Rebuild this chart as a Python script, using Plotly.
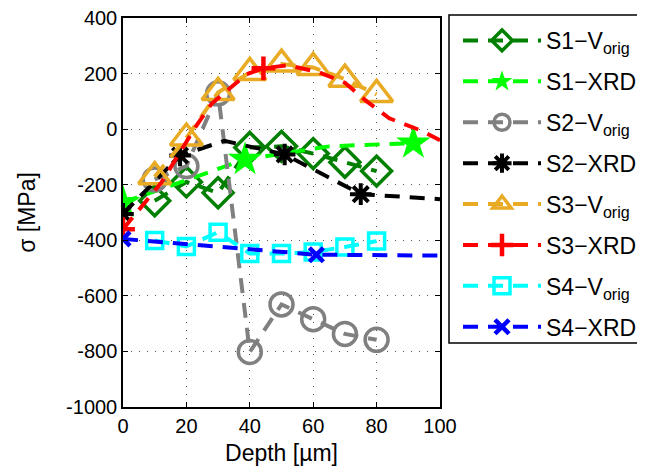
import plotly.graph_objects as go

# ---------------- data ----------------
depth_v = [10, 20, 30, 40, 50, 60, 70, 80]

s1_v = [-258, -190, -229, -66, -62, -88, -119, -151]
s2_v = [-181, -133, 129, -802, -631, -684, -737, -758]
s3_v = [-171, -32, 132, 204, 234, 222, 180, 125]
s4_v = [-401, -422, -371, -448, -448, -442, -424, -403]

# XRD curves (line vertices) and the points carrying markers
s1_xrd_x = [0, 38.5, 65, 91.6]
s1_xrd_y = [-264, -109, -62, -50]
s1_xrd_mx = [0, 38.5, 91.6]
s1_xrd_my = [-264, -109, -50]

s2_xrd_x = [0, 18, 32, 51, 75, 100]
s2_xrd_y = [-305, -95, -42, -91, -234, -252]
s2_xrd_mx = [0, 18, 51, 75]
s2_xrd_my = [-305, -95, -91, -234]

s3_xrd_x = [0, 12, 23, 28, 39, 44.3, 52, 61.5, 70, 77, 84, 94, 100]
s3_xrd_y = [-360, -194, 10, 92, 198, 219, 230, 206, 167, 99, 39, -5, -40]
s3_xrd_mx = [0, 44.3]
s3_xrd_my = [-360, 219]

s4_xrd_x = [0, 61, 100]
s4_xrd_y = [-395, -452, -455]
s4_xrd_mx = [0, 61]
s4_xrd_my = [-395, -452]

x_ticks = [0, 20, 40, 60, 80, 100]
y_ticks = [400, 200, 0, -200, -400, -600, -800, -1000]
y_ticklabels = ["400", "200", "0", "-200", "-400", "-600", "-800", "-1000"]

names = ["S1\u2212V<sub>orig</sub>", "S1\u2212XRD", "S2\u2212V<sub>orig</sub>", "S2\u2212XRD",
         "S3\u2212V<sub>orig</sub>", "S3\u2212XRD", "S4\u2212V<sub>orig</sub>", "S4\u2212XRD"]

# ---------------- styles ----------------
DASH = "15px,10px"
LW = 4

styles = [
    dict(color="#007F00", symbol="diamond-open", size=23, lw=3.5),
    dict(color="#00FF00", symbol="star", size=26, lw=0),
    dict(color="#808080", symbol="circle-open", size=23, lw=3.5),
    dict(color="#000000", symbol="asterisk-open", size=18, lw=4),
    dict(color="#E9AB23", symbol="triangle-up-open", size=28, lw=3.5),
    dict(color="#FF0000", symbol="cross-thin-open", size=17, lw=4.5),
    dict(color="#00FFFF", symbol="square-open", size=16, lw=3.5),
    dict(color="#0000FF", symbol="x-thin-open", size=14, lw=4.5),
]

fig = go.Figure()


def marker(st):
    m = dict(symbol=st["symbol"], size=st["size"], color=st["color"])
    if st["lw"]:
        m["line"] = dict(color=st["color"], width=st["lw"])
    else:
        m["line"] = dict(width=0)
    return m


series = [
    ("v", depth_v, s1_v),
    ("x", (s1_xrd_x, s1_xrd_y, s1_xrd_mx, s1_xrd_my)),
    ("v", depth_v, s2_v),
    ("x", (s2_xrd_x, s2_xrd_y, s2_xrd_mx, s2_xrd_my)),
    ("v", depth_v, s3_v),
    ("x", (s3_xrd_x, s3_xrd_y, s3_xrd_mx, s3_xrd_my)),
    ("v", depth_v, s4_v),
    ("x", (s4_xrd_x, s4_xrd_y, s4_xrd_mx, s4_xrd_my)),
]

for i, (s, st, name) in enumerate(zip(series, styles, names)):
    grp = f"g{i}"
    line = dict(color=st["color"], width=LW, dash=DASH)
    if s[0] == "v":
        fig.add_trace(go.Scatter(x=s[1], y=s[2], mode="lines+markers", line=line,
                                 marker=marker(st), showlegend=False, legendgroup=grp))
    else:
        lx, ly, mx, my = s[1]
        fig.add_trace(go.Scatter(x=lx, y=ly, mode="lines", line=line,
                                 showlegend=False, legendgroup=grp))
        fig.add_trace(go.Scatter(x=mx, y=my, mode="markers", marker=marker(st),
                                 showlegend=False, legendgroup=grp))
    # legend entry
    fig.add_trace(go.Scatter(x=[None], y=[None], mode="lines+markers", name=name,
                             line=line, marker=marker(st), legendgroup=grp))

FONT = "Liberation Sans, Arial, Helvetica, sans-serif"

# page has an 8px body margin -> figure is 637x466 with plot area at
# page x 123..440, y 18..407
W, H = 637, 466
L, R, T, B = 115, 205, 10, 67
pw, ph = W - L - R, H - T - B


def px_to_paper_x(px):
    return (px - 8 - L) / pw


def px_to_paper_y(py):
    return 1 - (py - 8 - T) / ph


fig.update_layout(
    width=W, height=H,
    margin=dict(l=L, r=R, t=T, b=B, autoexpand=False),
    paper_bgcolor="white", plot_bgcolor="white",
    font=dict(family=FONT, size=20, color="black"),
    xaxis=dict(range=[0, 100], tickvals=x_ticks, ticks="inside", ticklen=5, tickwidth=1,
               tickcolor="black", showline=True, linecolor="black", linewidth=1.5, mirror="ticks",
               showgrid=True, gridcolor="#555555", griddash="1px,7px", gridwidth=1,
               zeroline=False, title=dict(text="Depth [\u00b5m]", standoff=9, font=dict(size=23)),
               tickfont=dict(size=20)),
    yaxis=dict(range=[-1000, 400], tickvals=y_ticks, ticktext=y_ticklabels, ticks="inside",
               ticklen=5, tickwidth=1, tickcolor="black", showline=True, linecolor="black",
               linewidth=1.5, mirror="ticks", showgrid=True, gridcolor="#555555",
               griddash="1px,7px", gridwidth=1, zeroline=False, ticklabeloverflow="allow",
               title=dict(text="\u03c3 [MPa]", standoff=24, font=dict(size=23)),
               tickfont=dict(size=20)),
    legend=dict(x=px_to_paper_x(458), y=px_to_paper_y(19), xanchor="left", yanchor="top",
                borderwidth=0, bgcolor="rgba(0,0,0,0)", font=dict(size=23, family=FONT),
                itemwidth=78, tracegroupgap=8, traceorder="grouped", maxheight=600),
    shapes=[dict(type="rect", xref="paper", yref="paper",
                 x0=px_to_paper_x(449), x1=px_to_paper_x(700),
                 y0=px_to_paper_y(343), y1=px_to_paper_y(15),
                 line=dict(color="black", width=1.5), fillcolor="white", layer="below")],
)

fig.write_html("out.html")
